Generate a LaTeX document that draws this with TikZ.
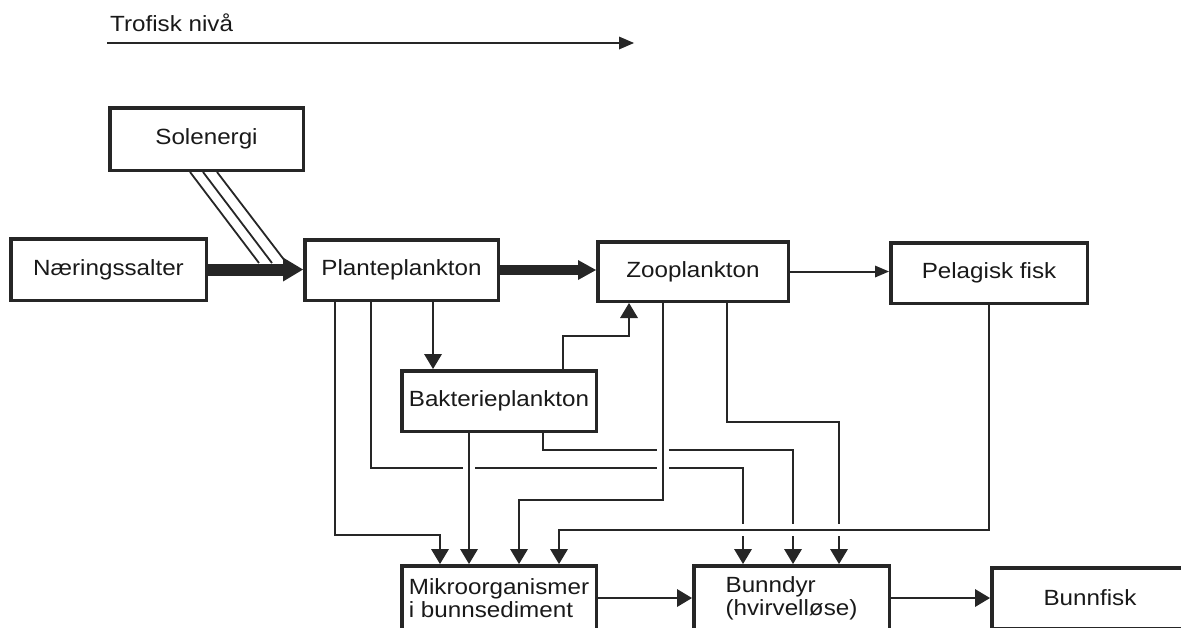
\documentclass[tikz,border=0pt]{standalone}
\usepackage{fontspec}
\setmainfont{Liberation Sans}[FakeStretch=1.1]
\usetikzlibrary{arrows.meta,calc}
\pgfdeclarelayer{bg}
\pgfsetlayers{bg,main}
\colorlet{ink}{black!85}
\begin{document}
\begin{tikzpicture}[x=1pt,y=-1pt,
  lbl/.style={font=\fontsize{22}{23}\selectfont,text=black!90},
  box/.style={draw=ink,line width=3.5pt,inner sep=0pt,align=left,
    font=\fontsize{22}{23}\selectfont,text=black!90},
  conn/.style={draw=ink,line width=2pt,-{Triangle[length=15pt,width=18pt,line width=0pt]}},
  ray/.style={draw=ink,line width=1.8pt},
  halo/.style={preaction={draw=white,line width=12pt,arrows=-}},
]
\useasboundingbox (0,0) rectangle (1181,627);
\clip (0,0) rectangle (1181,627);

% title
\node[lbl,anchor=base west,inner sep=0pt] (title) at (110,31) {Trofisk nivå};
\coordinate (ta) at (107,43);
\coordinate (tb) at (634,43);
\draw[ink,line width=2.5pt,-{Triangle[length=15pt,width=13pt,line width=0pt]}] (ta) -- (tb);

% boxes
\node[box,minimum width=193.5pt,minimum height=62.5pt] (sol) at (206.5,139) {Solenergi};
\node[box,minimum width=195.5pt,minimum height=61.5pt] (naer) at (108.5,269.5) {Næringssalter};
\node[box,minimum width=193.5pt,minimum height=60.5pt] (plante) at (401.5,270) {Planteplankton};
\node[box,minimum width=190.5pt,minimum height=59.5pt] (zoo) at (693,271.5) {Zooplankton};
\node[box,minimum width=196.5pt,minimum height=60.5pt] (pel) at (989,273) {Pelagisk fisk};
\node[box,minimum width=194.5pt,minimum height=60.5pt] (bakt) at (499,401) {Bakterieplankton};
\node[box,minimum width=194.5pt,minimum height=64.5pt] (mikro) at (499,598) {Mikroorganismer\\i bunnsediment};
\node[box,minimum width=195.5pt,minimum height=64.5pt] (bunn) at (791.5,598) {Bunndyr\\(hvirvelløse)};
\node[box,minimum width=196.5pt,minimum height=60.5pt] (fisk) at (1090,598) {Bunnfisk};

\begin{pgfonlayer}{bg}
% anchor points
\coordinate (p1) at ($(plante.south)+(-66.5,0)$);
\coordinate (p2) at ($(plante.south)+(-30.5,0)$);
\coordinate (p3) at ($(plante.south)+(31.5,0)$);
\coordinate (b1) at ($(bakt.south)+(-30,0)$);
\coordinate (b2) at ($(bakt.south)+(44,0)$);
\coordinate (b3) at ($(bakt.north)+(64,0)$);
\coordinate (z1) at ($(zoo.south)+(-64,0)$);
\coordinate (z2) at ($(zoo.south)+(-30,0)$);
\coordinate (z3) at ($(zoo.south)+(34,0)$);
\coordinate (m1) at ($(mikro.north)+(-59,0)$);
\coordinate (m3) at ($(mikro.north)+(20,0)$);
\coordinate (m4) at ($(mikro.north)+(60,0)$);
\coordinate (d1) at ($(bunn.north)+(-48.5,0)$);
\coordinate (d2) at ($(bunn.north)+(1.5,0)$);
\coordinate (d3) at ($(bunn.north)+(47.5,0)$);

% solar rays
\draw[ray] ($(sol.south)+(-16.5,0)$) -- ++(69,91);
\draw[ray] ($(sol.south)+(-3.5,0)$) -- ++(69,91);
\draw[ray] ($(sol.south)+(10.5,0)$) -- ++(68,89);

% thick flows
\draw[ink,line width=12pt,-{Triangle[length=20pt,width=24pt,line width=0pt]}] (naer.east) -- (naer.east -| plante.west);
\draw[ink,line width=10pt,-{Triangle[length=18pt,width=20pt,line width=0pt]}] (plante.east) -- (plante.east -| zoo.west);
\draw[conn,-{Triangle[length=14pt,width=12pt,line width=0pt]}] (zoo.east) -- (zoo.east -| pel.west);
\draw[conn] (mikro.east) -- (bunn.west);
\draw[conn] (bunn.east) -- (fisk.west);

% thin flows
\draw[conn] (p3) -- (p3 |- bakt.north);
\draw[conn] (p1) -- ++(0,233) -| (m1);
\draw[conn] (p2) -- ++(0,166) -| (d1);
\draw[conn] (b2) -- ++(0,17) -| (d2);
\draw[conn] (z3) -- ++(0,119) -| (d3);
\draw[conn] (b3) -- ++(0,-33) -| (z1);
\draw[conn,halo] (b1) -- (b1 |- mikro.north);
\draw[conn,halo] (z2) -- ++(0,197) -| (m3);
\draw[conn,halo] (pel.south) -- ++(0,225) -| (m4);
\end{pgfonlayer}
\end{tikzpicture}
\end{document}
